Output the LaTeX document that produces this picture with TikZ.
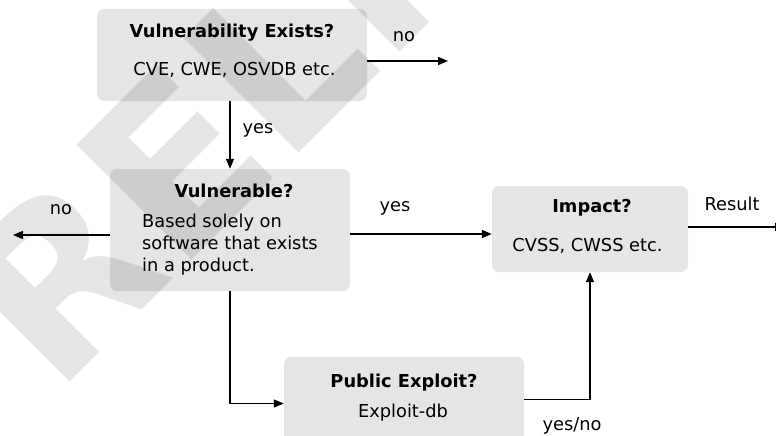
\documentclass[tikz,border=0pt]{standalone}
\usepackage{fontspec}
\setmainfont{DejaVu Sans}
\usetikzlibrary{arrows.meta,calc}
\definecolor{boxgray}{gray}{0.9}
\begin{document}
\begin{tikzpicture}[x=1pt,y=-1pt,
  box/.style={fill=boxgray, rounded corners=7pt, inner sep=0pt},
  ttl/.style={font=\fontsize{17.8}{22}\selectfont\bfseries, inner sep=0pt},
  txt/.style={font=\fontsize{17.8}{22}\selectfont, inner sep=0pt},
  conn/.style={line width=1.2pt, -{Triangle[length=10pt,width=8pt]}},
  thick conn/.style={conn, line width=1.6pt},
  wmark/.style={rotate=45, inner sep=0pt, text=black, text opacity=0.1,
    font=\fontsize{223}{223}\selectfont\bfseries},
]
\clip (0,0) rectangle (776,436);

% boxes
\node[box, minimum width=270pt, minimum height=92pt] (b1) at (232,55) {};
\node[box, minimum width=240pt, minimum height=122pt] (b2) at (230,230) {};
\node[box, minimum width=196pt, minimum height=86pt] (b3) at (590,229) {};
\node[box, minimum width=240pt, minimum height=85pt] (b4) at (404,399.5) {};

% box texts
\node[ttl] (t1) at (232,33) {Vulnerability Exists?};
\node[txt] (s1) at (234.5,70) {CVE, CWE, OSVDB etc.};
\node[ttl] (t2) at (234,191) {Vulnerable?};
\node[txt, align=left, anchor=west] (s2) at (142,245) {Based solely on\\software that exists\\in a product.};
\node[ttl] (t3) at (592,208) {Impact?};
\node[txt] (s3) at (587.5,246) {CVSS, CWSS etc.};
\node[ttl] (t4) at (404,383) {Public Exploit?};
\node[txt] (s4) at (403,413) {Exploit-db};

% connectors
\coordinate (out1) at (448,61);
\draw[thick conn] (b1.east |- out1) -- (out1);
\draw[conn] (b1.south -| b2.north) -- (b2.north);
\coordinate (out2) at (13,235);
\draw[thick conn] (b2.west |- out2) -- (out2);
\coordinate (p23) at ($(b2.east)+(0,4)$);
\draw[thick conn] (p23) -- (p23 -| b3.west);
\coordinate (res) at (785,227);
\draw[thick conn] (b3.east |- res) -- (res);
\coordinate (p24) at ($(b4.west)+(0,4)$);
\draw[conn] (b2.south) |- (p24);
\draw[conn] (b4.east) -| (b3.south);

% connector labels
\node[txt] (l1) at (404,37) {no};
\node[txt] (l2) at (258,130) {yes};
\node[txt] (l3) at (61,210) {no};
\node[txt] (l4) at (395,208) {yes};
\node[txt] (l5) at (732,204) {Result};
\node[txt] (l6) at (572,426) {yes/no};

% watermark, set diagonally across the page
\coordinate (wmo) at (55.6,396.4);
\node[wmark, anchor=base east] (wmp) at (wmo) {P};
\node[wmark, anchor=base west] (wm) at (wmo) {RELIMINARY};
\end{tikzpicture}
\end{document}
